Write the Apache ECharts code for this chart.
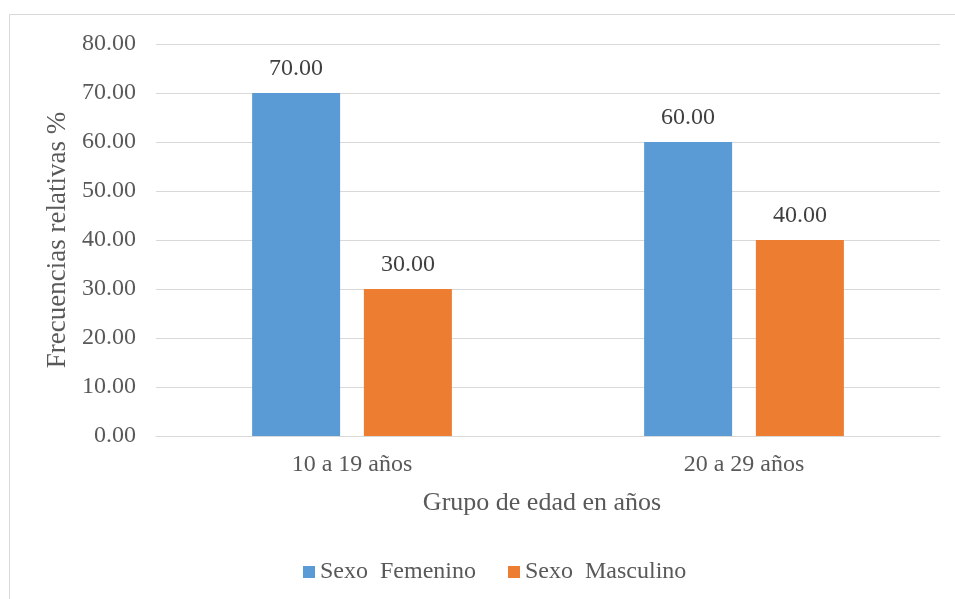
<!DOCTYPE html>
<html>
<head>
<meta charset="utf-8">
<script src="https://cdn.jsdelivr.net/npm/echarts@6/dist/echarts.min.js"></script>
<style>
  html, body { margin: 0; padding: 0; background: #fff; }
  #chart { width: 955px; height: 599px; }
</style>
</head>
<body>
<div id="chart"></div>
<script>
(function () {
  'use strict';

  // datos del gráfico
  const categories = ['10 a 19 años', '20 a 29 años'];
  const femenino = [70, 60];
  const masculino = [30, 40];
  const seriesNames = ['Sexo  Femenino', 'Sexo  Masculino'];

  const FONT = '"Liberation Serif", "Times New Roman", serif';
  const TXT = '#595959';

  const chart = echarts.init(document.getElementById('chart'), null, { renderer: 'canvas' });

  const labelOpt = {
    show: true, position: 'top', distance: 12,
    color: '#404040', fontFamily: FONT, fontSize: 24,
    formatter: p => p.value.toFixed(2)
  };

  chart.setOption({
    animation: false,
    color: ['#5b9bd5', '#ed7d31'],
    textStyle: { fontFamily: FONT },
    graphic: [
      { type: 'line', shape: { x1: 9.5, y1: 14.5, x2: 955, y2: 14.5 }, style: { stroke: '#d9d9d9', lineWidth: 1 } },
      { type: 'line', shape: { x1: 9.5, y1: 14.5, x2: 9.5, y2: 599 }, style: { stroke: '#d9d9d9', lineWidth: 1 } }
    ],
    grid: { left: 156, right: 15, top: 44, bottom: 163 },
    legend: {
      left: 298, top: 555,
      itemWidth: 12, itemHeight: 12, itemGap: 32,
      icon: 'rect',
      textStyle: { color: TXT, fontFamily: FONT, fontSize: 24 },
      data: seriesNames
    },
    xAxis: {
      type: 'category', data: categories,
      name: 'Grupo de edad en años', nameLocation: 'middle', nameGap: 54,
      nameTextStyle: { color: TXT, fontFamily: FONT, fontSize: 26, padding: [0, 12, 0, 0] },
      axisLine: { lineStyle: { color: '#d9d9d9' } },
      axisTick: { show: false },
      axisLabel: { color: TXT, fontFamily: FONT, fontSize: 24, margin: 17 }
    },
    yAxis: {
      type: 'value', min: 0, max: 80, interval: 10,
      name: 'Frecuencias relativas %', nameLocation: 'middle', nameGap: 85,
      nameTextStyle: { color: TXT, fontFamily: FONT, fontSize: 27 },
      axisLine: { show: false }, axisTick: { show: false },
      axisLabel: { color: TXT, fontFamily: FONT, fontSize: 24, margin: 20, formatter: v => v.toFixed(2) },
      splitLine: { lineStyle: { color: '#d9d9d9' } }
    },
    series: [
      { name: seriesNames[0], type: 'bar', data: femenino, barWidth: 88, barGap: '27%', label: labelOpt },
      { name: seriesNames[1], type: 'bar', data: masculino, barWidth: 88, barGap: '27%', label: labelOpt }
    ]
  });

  window.addEventListener('resize', () => chart.resize());
})();
</script>
</body>
</html>
